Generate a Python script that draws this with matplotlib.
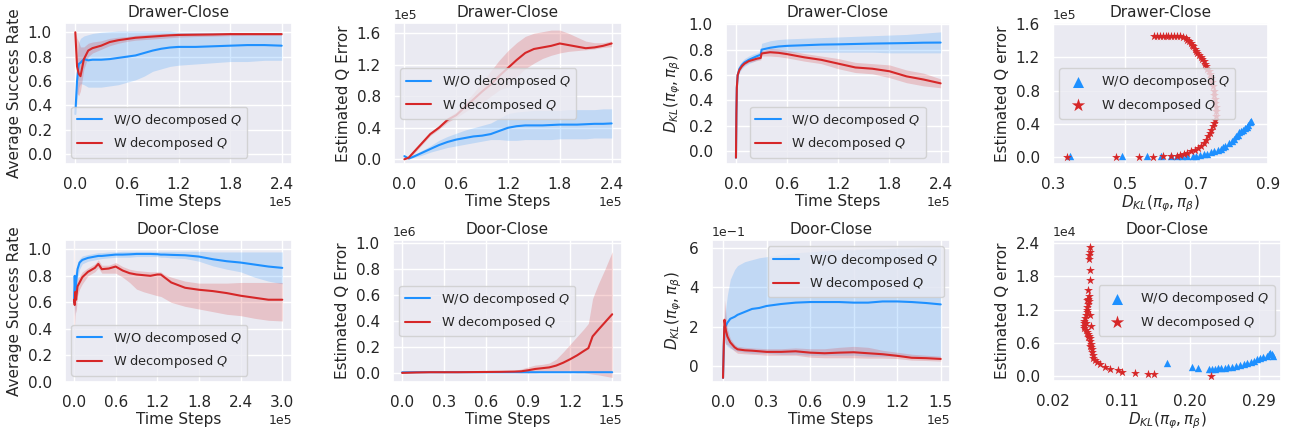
import numpy as np
import matplotlib
matplotlib.use("Agg")
import matplotlib.pyplot as plt
import seaborn as sns

BLUE = "#1E90FF"
RED = "#D62728"
LBL_WO = "W/O decomposed $Q$"
LBL_W = "W decomposed $Q$"
KL_LABEL = r"$D_{KL}(\pi_\varphi, \pi_\beta)$"

# ---------------- Drawer-Close: success rate (x in 1e5 steps)
dr_sr_x = [0, 0.02, 0.04, 0.06, 0.1, 0.15, 0.2, 0.3, 0.4, 0.5, 0.6, 0.7, 0.8, 0.9, 1.0, 1.1, 1.2, 1.4, 1.6, 1.8, 2.0, 2.2, 2.4]
dr_sr_wo = [0.33, 0.6, 0.74, 0.75, 0.78, 0.77, 0.775, 0.775, 0.78, 0.79, 0.80, 0.81, 0.83, 0.85, 0.865, 0.875, 0.88, 0.88, 0.885, 0.89, 0.895, 0.895, 0.89]
dr_sr_wo_lo = [0.25, 0.45, 0.55, 0.58, 0.57, 0.55, 0.55, 0.55, 0.56, 0.57, 0.59, 0.61, 0.64, 0.68, 0.70, 0.72, 0.73, 0.74, 0.75, 0.76, 0.76, 0.77, 0.77]
dr_sr_wo_hi = [0.42, 0.8, 0.92, 0.95, 0.97, 0.98, 0.99, 1.0, 1.005, 1.01, 1.01, 1.01, 1.01, 1.01, 1.01, 1.01, 1.0, 1.0, 1.0, 1.0, 1.0, 1.0, 1.0]
dr_sr_w = [1.0, 0.72, 0.66, 0.64, 0.78, 0.85, 0.87, 0.89, 0.92, 0.935, 0.945, 0.955, 0.96, 0.965, 0.97, 0.975, 0.978, 0.98, 0.982, 0.985, 0.985, 0.985, 0.985]
dr_sr_w_lo = [1.0, 0.5, 0.48, 0.52, 0.7, 0.8, 0.83, 0.86, 0.89, 0.91, 0.925, 0.935, 0.94, 0.945, 0.95, 0.955, 0.96, 0.965, 0.968, 0.972, 0.975, 0.975, 0.975]
dr_sr_w_hi = [1.0, 0.95, 0.92, 0.88, 0.88, 0.91, 0.92, 0.93, 0.95, 0.96, 0.965, 0.975, 0.98, 0.985, 0.99, 0.99, 0.995, 0.995, 0.995, 0.995, 0.995, 0.995, 0.995]

# ---------------- Drawer-Close: Q error (x in 1e5 steps, y in 1e5)
dr_q_x = [0, 0.05, 0.1, 0.2, 0.3, 0.4, 0.5, 0.6, 0.7, 0.8, 0.9, 1.0, 1.1, 1.2, 1.3, 1.4, 1.5, 1.6, 1.7, 1.8, 1.9, 2.0, 2.1, 2.2, 2.3, 2.4]
dr_q_wo = [0.04, 0.01, 0.03, 0.08, 0.13, 0.18, 0.22, 0.25, 0.27, 0.29, 0.30, 0.32, 0.36, 0.40, 0.42, 0.43, 0.43, 0.43, 0.435, 0.44, 0.44, 0.44, 0.445, 0.45, 0.45, 0.455]
dr_q_wo_lo = [0.03, 0.0, 0.02, 0.05, 0.09, 0.12, 0.15, 0.17, 0.19, 0.21, 0.23, 0.25, 0.25, 0.24, 0.24, 0.25, 0.25, 0.25, 0.25, 0.26, 0.26, 0.26, 0.26, 0.27, 0.27, 0.27]
dr_q_wo_hi = [0.05, 0.02, 0.05, 0.11, 0.17, 0.24, 0.29, 0.33, 0.37, 0.40, 0.43, 0.46, 0.52, 0.58, 0.60, 0.61, 0.62, 0.62, 0.62, 0.62, 0.63, 0.63, 0.63, 0.63, 0.64, 0.64]
dr_q_w = [0.0, 0.02, 0.08, 0.20, 0.32, 0.40, 0.50, 0.56, 0.66, 0.76, 0.86, 0.95, 1.06, 1.16, 1.26, 1.35, 1.40, 1.42, 1.44, 1.47, 1.45, 1.43, 1.41, 1.42, 1.44, 1.47]
dr_q_w_lo = [0.0, 0.01, 0.06, 0.18, 0.30, 0.38, 0.47, 0.53, 0.60, 0.67, 0.72, 0.80, 0.88, 0.92, 1.05, 1.15, 1.22, 1.28, 1.32, 1.35, 1.37, 1.38, 1.39, 1.40, 1.42, 1.43]
dr_q_w_hi = [0.01, 0.04, 0.10, 0.22, 0.34, 0.43, 0.53, 0.60, 0.72, 0.84, 0.98, 1.12, 1.26, 1.38, 1.48, 1.56, 1.60, 1.62, 1.64, 1.64, 1.60, 1.55, 1.50, 1.48, 1.48, 1.50]

# ---------------- Drawer-Close: KL (x in 1e5 steps)
dr_kl_x = [0, 0.005, 0.01, 0.02, 0.04, 0.07, 0.1, 0.15, 0.2, 0.25, 0.29, 0.3, 0.4, 0.5, 0.6, 0.8, 1.0, 1.2, 1.4, 1.6, 1.8, 2.0, 2.2, 2.4]
dr_kl_wo = [-0.05, 0.3, 0.5, 0.6, 0.65, 0.68, 0.7, 0.72, 0.735, 0.75, 0.76, 0.8, 0.815, 0.825, 0.83, 0.835, 0.84, 0.842, 0.845, 0.848, 0.85, 0.852, 0.855, 0.856]
dr_kl_wo_lo = [-0.05, 0.28, 0.47, 0.57, 0.62, 0.65, 0.67, 0.69, 0.705, 0.72, 0.73, 0.77, 0.775, 0.78, 0.78, 0.78, 0.78, 0.78, 0.78, 0.78, 0.775, 0.775, 0.775, 0.775]
dr_kl_wo_hi = [-0.05, 0.32, 0.53, 0.63, 0.68, 0.71, 0.73, 0.75, 0.765, 0.775, 0.79, 0.85, 0.87, 0.88, 0.885, 0.89, 0.895, 0.9, 0.905, 0.91, 0.915, 0.92, 0.93, 0.94]
dr_kl_w = [-0.05, 0.3, 0.5, 0.6, 0.64, 0.67, 0.69, 0.71, 0.72, 0.73, 0.735, 0.77, 0.78, 0.775, 0.765, 0.74, 0.72, 0.69, 0.66, 0.65, 0.63, 0.59, 0.565, 0.535]
dr_kl_w_lo = [-0.05, 0.29, 0.49, 0.59, 0.63, 0.66, 0.68, 0.70, 0.705, 0.715, 0.72, 0.75, 0.75, 0.745, 0.735, 0.71, 0.69, 0.65, 0.62, 0.61, 0.58, 0.54, 0.515, 0.5]
dr_kl_w_hi = [-0.05, 0.31, 0.51, 0.61, 0.65, 0.68, 0.70, 0.72, 0.735, 0.745, 0.75, 0.79, 0.81, 0.805, 0.795, 0.77, 0.75, 0.73, 0.70, 0.69, 0.68, 0.64, 0.615, 0.57]

# ---------------- Drawer-Close: scatter (KL, Q error in 1e5)
dr_sc_wo_kl = [0.348, 0.492, 0.561, 0.602, 0.63, 0.645, 0.66, 0.675, 0.69, 0.70, 0.71, 0.72, 0.73, 0.74, 0.75, 0.76, 0.77, 0.775, 0.78, 0.79, 0.80, 0.805, 0.81, 0.815, 0.82, 0.825, 0.83, 0.835, 0.84, 0.845, 0.85, 0.853]
dr_sc_wo_q = [0.01, 0.01, 0.01, 0.01, 0.01, 0.01, 0.01, 0.012, 0.015, 0.02, 0.025, 0.035, 0.045, 0.06, 0.075, 0.09, 0.105, 0.12, 0.14, 0.17, 0.2, 0.22, 0.25, 0.27, 0.3, 0.31, 0.33, 0.35, 0.36, 0.39, 0.42, 0.44]
dr_sc_w_kl = [0.34, 0.475, 0.54, 0.58, 0.607, 0.63, 0.645, 0.655, 0.665, 0.675, 0.685, 0.695, 0.705, 0.712, 0.72, 0.727, 0.733, 0.738, 0.742, 0.746, 0.749, 0.752, 0.754, 0.755, 0.754, 0.753, 0.751, 0.749, 0.748, 0.746, 0.744, 0.741, 0.737, 0.734, 0.731, 0.728, 0.725, 0.72, 0.716, 0.712, 0.707, 0.703, 0.699, 0.695, 0.691, 0.688, 0.684, 0.68, 0.675, 0.67, 0.662, 0.655, 0.646, 0.638, 0.63, 0.622, 0.614, 0.606, 0.598, 0.59, 0.582]
dr_sc_w_q = [0.0, 0.0, 0.0, 0.005, 0.01, 0.02, 0.02, 0.03, 0.04, 0.05, 0.07, 0.09, 0.11, 0.14, 0.17, 0.21, 0.25, 0.29, 0.33, 0.37, 0.41, 0.45, 0.5, 0.55, 0.6, 0.65, 0.7, 0.75, 0.8, 0.85, 0.9, 0.95, 1.0, 1.03, 1.06, 1.09, 1.12, 1.15, 1.18, 1.2, 1.23, 1.25, 1.28, 1.3, 1.33, 1.35, 1.37, 1.39, 1.41, 1.43, 1.44, 1.45, 1.45, 1.455, 1.45, 1.455, 1.45, 1.45, 1.455, 1.45, 1.45]

# ---------------- Door-Close: success rate (x in 1e5 steps)
do_sr_x = [0, 0.01, 0.02, 0.03, 0.05, 0.08, 0.12, 0.2, 0.3, 0.35, 0.4, 0.5, 0.6, 0.7, 0.8, 0.9, 1.0, 1.1, 1.2, 1.25, 1.3, 1.4, 1.6, 1.8, 2.0, 2.2, 2.4, 2.6, 2.8, 3.0]
do_sr_wo = [0.6, 0.8, 0.65, 0.75, 0.85, 0.9, 0.92, 0.935, 0.945, 0.95, 0.95, 0.955, 0.96, 0.96, 0.962, 0.965, 0.965, 0.965, 0.963, 0.96, 0.96, 0.958, 0.955, 0.945, 0.925, 0.91, 0.9, 0.885, 0.87, 0.86]
do_sr_wo_lo = [0.5, 0.6, 0.5, 0.65, 0.78, 0.85, 0.89, 0.91, 0.92, 0.925, 0.93, 0.935, 0.94, 0.94, 0.94, 0.945, 0.945, 0.945, 0.945, 0.94, 0.94, 0.935, 0.93, 0.91, 0.875, 0.85, 0.83, 0.79, 0.76, 0.74]
do_sr_wo_hi = [0.65, 0.85, 0.75, 0.82, 0.9, 0.93, 0.95, 0.96, 0.97, 0.975, 0.975, 0.98, 0.98, 0.985, 0.985, 0.985, 0.985, 0.985, 0.985, 0.985, 0.985, 0.985, 0.985, 0.985, 0.98, 0.98, 0.98, 0.98, 0.98, 0.98]
do_sr_w = [0.62, 0.58, 0.68, 0.62, 0.72, 0.75, 0.79, 0.83, 0.86, 0.89, 0.85, 0.855, 0.87, 0.84, 0.82, 0.81, 0.805, 0.8, 0.81, 0.81, 0.79, 0.75, 0.71, 0.695, 0.685, 0.67, 0.65, 0.635, 0.62, 0.62]
do_sr_w_lo = [0.35, 0.45, 0.55, 0.52, 0.65, 0.7, 0.74, 0.8, 0.83, 0.86, 0.82, 0.82, 0.82, 0.79, 0.75, 0.7, 0.68, 0.665, 0.65, 0.645, 0.63, 0.6, 0.57, 0.55, 0.53, 0.51, 0.5, 0.48, 0.465, 0.46]
do_sr_w_hi = [1.08, 0.75, 0.8, 0.72, 0.78, 0.8, 0.83, 0.86, 0.89, 0.92, 0.88, 0.88, 0.9, 0.87, 0.85, 0.84, 0.835, 0.83, 0.83, 0.83, 0.81, 0.79, 0.76, 0.745, 0.745, 0.745, 0.75, 0.75, 0.75, 0.75]

# ---------------- Door-Close: Q error (x in 1e5 steps, y in 1e6)
do_q_x = [0, 0.1, 0.2, 0.3, 0.4, 0.5, 0.6, 0.7, 0.8, 0.85, 0.9, 0.95, 1.0, 1.05, 1.1, 1.15, 1.2, 1.25, 1.3, 1.33, 1.36, 1.4, 1.45, 1.5]
do_q_wo = [0.004, 0.005, 0.005, 0.005, 0.005, 0.005, 0.005, 0.005, 0.005, 0.005, 0.005, 0.005, 0.005, 0.005, 0.005, 0.005, 0.005, 0.005, 0.005, 0.005, 0.005, 0.005, 0.005, 0.005]
do_q_wo_lo = [0.003, 0.004, 0.004, 0.004, 0.004, 0.004, 0.004, 0.004, 0.004, 0.004, 0.004, 0.004, 0.004, 0.004, 0.004, 0.004, 0.004, 0.004, 0.004, 0.004, 0.004, 0.004, 0.004, 0.004]
do_q_wo_hi = [0.005, 0.006, 0.006, 0.006, 0.006, 0.006, 0.006, 0.006, 0.006, 0.006, 0.006, 0.006, 0.006, 0.006, 0.006, 0.006, 0.006, 0.006, 0.006, 0.006, 0.006, 0.006, 0.006, 0.006]
do_q_w = [0.0, 0.003, 0.005, 0.005, 0.005, 0.006, 0.007, 0.008, 0.01, 0.012, 0.02, 0.03, 0.036, 0.042, 0.056, 0.078, 0.105, 0.135, 0.17, 0.19, 0.28, 0.33, 0.39, 0.45]
do_q_w_lo = [0.0, 0.002, 0.003, 0.003, 0.003, 0.003, 0.004, 0.004, 0.003, 0.0, 0.0, 0.0, 0.005, 0.005, 0.01, 0.01, 0.005, 0.0, 0.0, -0.005, -0.01, -0.015, -0.025, -0.035]
do_q_w_hi = [0.0, 0.004, 0.007, 0.008, 0.008, 0.009, 0.01, 0.012, 0.018, 0.03, 0.045, 0.06, 0.065, 0.075, 0.105, 0.16, 0.22, 0.28, 0.34, 0.38, 0.57, 0.68, 0.8, 0.93]

# ---------------- Door-Close: KL (x in 1e5 steps, y in 1e-1)
do_kl_x = [0, 0.005, 0.01, 0.02, 0.03, 0.05, 0.08, 0.1, 0.15, 0.2, 0.25, 0.3, 0.4, 0.5, 0.6, 0.7, 0.8, 0.9, 1.0, 1.1, 1.2, 1.3, 1.4, 1.5]
do_kl_wo = [-0.6, 1.0, 2.0, 2.05, 2.2, 2.4, 2.5, 2.6, 2.75, 2.9, 2.95, 3.05, 3.15, 3.22, 3.25, 3.25, 3.25, 3.22, 3.22, 3.28, 3.28, 3.25, 3.2, 3.13]
do_kl_wo_lo = [-0.6, 0.5, 1.2, 1.1, 1.0, 0.9, 0.8, 0.75, 0.7, 0.65, 0.65, 0.65, 0.6, 0.6, 0.55, 0.55, 0.55, 0.55, 0.5, 0.5, 0.5, 0.5, 0.45, 0.45]
do_kl_wo_hi = [-0.6, 1.5, 2.5, 3.0, 3.6, 4.4, 4.9, 5.1, 5.3, 5.4, 5.5, 5.55, 5.65, 5.75, 5.8, 5.85, 5.9, 5.9, 5.95, 5.95, 6.0, 6.0, 6.05, 6.05]
do_kl_w = [-0.6, 1.0, 2.35, 1.8, 1.5, 1.2, 0.95, 0.85, 0.8, 0.78, 0.75, 0.72, 0.72, 0.75, 0.68, 0.65, 0.68, 0.7, 0.65, 0.6, 0.52, 0.42, 0.4, 0.36]
do_kl_w_lo = [-0.6, 0.6, 1.4, 1.1, 1.1, 0.95, 0.75, 0.65, 0.62, 0.6, 0.58, 0.55, 0.55, 0.55, 0.45, 0.42, 0.42, 0.42, 0.4, 0.4, 0.38, 0.3, 0.28, 0.25]
do_kl_w_hi = [-0.6, 1.5, 3.35, 2.6, 1.9, 1.4, 1.1, 1.0, 0.95, 0.92, 0.9, 0.88, 0.88, 0.92, 0.88, 0.88, 0.95, 1.0, 0.95, 0.8, 0.7, 0.6, 0.55, 0.5]

# ---------------- Door-Close: scatter (KL, Q error in 1e4)
do_sc_wo_kl = [0.169, 0.202, 0.21, 0.224, 0.228, 0.232, 0.236, 0.24, 0.245, 0.25, 0.255, 0.26, 0.265, 0.27, 0.275, 0.28, 0.284, 0.288, 0.292, 0.296, 0.3, 0.303, 0.305, 0.307, 0.309]
do_sc_wo_q = [0.24, 0.17, 0.14, 0.12, 0.13, 0.13, 0.14, 0.14, 0.15, 0.16, 0.17, 0.19, 0.2, 0.22, 0.24, 0.26, 0.28, 0.3, 0.32, 0.34, 0.36, 0.39, 0.41, 0.39, 0.37]
do_sc_w_kl = [0.068, 0.068, 0.067, 0.067, 0.068, 0.068, 0.066, 0.067, 0.066, 0.067, 0.066, 0.065, 0.065, 0.064, 0.063, 0.062, 0.061, 0.06, 0.06, 0.061, 0.063, 0.064, 0.066, 0.067, 0.068, 0.069, 0.07, 0.07, 0.071, 0.071, 0.072, 0.073, 0.075, 0.078, 0.082, 0.088, 0.095, 0.105, 0.11, 0.127, 0.145, 0.153, 0.227, 0.065, 0.068, 0.07, 0.063, 0.066, 0.069]
do_sc_w_q = [2.33, 2.25, 2.18, 2.12, 1.92, 1.73, 1.55, 1.45, 1.4, 1.35, 1.3, 1.25, 1.2, 1.15, 1.1, 1.05, 1.0, 0.95, 0.9, 0.87, 0.83, 0.8, 0.76, 0.72, 0.68, 0.63, 0.58, 0.53, 0.48, 0.43, 0.38, 0.33, 0.29, 0.25, 0.21, 0.17, 0.13, 0.1, 0.08, 0.06, 0.04, 0.03, 0.0, 1.38, 1.1, 0.9, 0.95, 0.7, 0.55]

sns.set_theme(style="darkgrid")
plt.rcParams["font.family"] = ["DejaVu Sans"]
plt.rcParams["xtick.labelsize"] = 11
plt.rcParams["ytick.labelsize"] = 11
plt.rcParams["axes.labelsize"] = 11
plt.rcParams["axes.titlesize"] = 11

W, H = 1293, 432
fig = plt.figure(figsize=(W / 100, H / 100), dpi=100)


def make_axes(l, r, t, b):
    return fig.add_axes([l / W, 1 - b / H, (r - l) / W, (b - t) / H])


def time_plot(ax, x, scale, wo, wo_lo, wo_hi, w, w_lo, w_hi):
    xs = np.array(x) * 1e5
    for m, lo, hi, c, lab in [(wo, wo_lo, wo_hi, BLUE, LBL_WO), (w, w_lo, w_hi, RED, LBL_W)]:
        ax.fill_between(xs, np.array(lo) * scale, np.array(hi) * scale, color=c, alpha=0.2, lw=0)
        ax.plot(xs, np.array(m) * scale, color=c, lw=1.5, label=lab)
    ax.set_xlabel("Time Steps", labelpad=1)
    ax.ticklabel_format(axis="x", style="sci", scilimits=(0, 0))
    ax.xaxis.get_offset_text().set_fontsize(9)
    ax.yaxis.get_offset_text().set_fontsize(9)


def scatter_plot(ax, wo_kl, wo_q, w_kl, w_q, scale):
    ax.scatter(wo_kl, np.array(wo_q) * scale, marker="^", s=28, color=BLUE, lw=0, label=LBL_WO)
    ax.scatter(w_kl, np.array(w_q) * scale, marker="*", s=45, color=RED, lw=0, label=LBL_W)
    ax.set_xlabel(KL_LABEL, labelpad=1)
    ax.set_ylabel("Estimated Q error")
    ax.ticklabel_format(axis="y", style="sci", scilimits=(0, 0))
    ax.yaxis.get_offset_text().set_fontsize(9)


leg_kw = dict(fontsize=9.3, frameon=True, handlelength=2.0)

# Row 1
ax = make_axes(65, 292, 23, 164)
time_plot(ax, dr_sr_x, 1, dr_sr_wo, dr_sr_wo_lo, dr_sr_wo_hi, dr_sr_w, dr_sr_w_lo, dr_sr_w_hi)
ax.set_xlim(-0.12e5, 2.52e5)
ax.set_ylim(-0.08, 1.076)
ax.set_xticks([0, 0.6e5, 1.2e5, 1.8e5, 2.4e5])
ax.set_yticks([0, 0.2, 0.4, 0.6, 0.8, 1.0])
ax.set_ylabel("Average Success Rate")
ax.set_title("Drawer-Close", pad=4)
ax.legend(loc="lower left", **leg_kw)

ax = make_axes(394, 622, 23, 164)
time_plot(ax, dr_q_x, 1e5, dr_q_wo, dr_q_wo_lo, dr_q_wo_hi, dr_q_w, dr_q_w_lo, dr_q_w_hi)
ax.set_xlim(-0.12e5, 2.52e5)
ax.set_ylim(-0.06e5, 1.73e5)
ax.set_xticks([0, 0.6e5, 1.2e5, 1.8e5, 2.4e5])
ax.set_yticks([0, 0.4e5, 0.8e5, 1.2e5, 1.6e5])
ax.ticklabel_format(axis="y", style="sci", scilimits=(0, 0))
ax.set_ylabel("Estimated Q Error")
ax.set_title("Drawer-Close", pad=4)
ax.legend(loc="center left", **leg_kw)

ax = make_axes(726, 950, 23, 164)
time_plot(ax, dr_kl_x, 1, dr_kl_wo, dr_kl_wo_lo, dr_kl_wo_hi, dr_kl_w, dr_kl_w_lo, dr_kl_w_hi)
ax.set_xlim(-0.117e5, 2.51e5)
ax.set_ylim(-0.1, 1.01)
ax.set_xticks([0, 0.6e5, 1.2e5, 1.8e5, 2.4e5])
ax.set_yticks([0, 0.2, 0.4, 0.6, 0.8, 1.0])
ax.set_ylabel(KL_LABEL)
ax.set_title("Drawer-Close", pad=4)
ax.legend(loc="lower center", **leg_kw)

ax = make_axes(1053, 1268, 23, 164)
scatter_plot(ax, dr_sc_wo_kl, dr_sc_wo_q, dr_sc_w_kl, dr_sc_w_q, 1e5)
ax.set_xlim(0.305, 0.895)
ax.set_ylim(-0.08e5, 1.61e5)
ax.set_xticks([0.3, 0.5, 0.7, 0.9])
ax.set_yticks([0, 0.4e5, 0.8e5, 1.2e5, 1.6e5])
ax.set_title("Drawer-Close", pad=4)
ax.legend(loc="center left", bbox_to_anchor=(0.0, 0.5), markerscale=1.5, **leg_kw)

# Row 2
ax = make_axes(65, 292, 240, 382)
time_plot(ax, do_sr_x, 1, do_sr_wo, do_sr_wo_lo, do_sr_wo_hi, do_sr_w, do_sr_w_lo, do_sr_w_hi)
ax.set_xlim(-0.13e5, 3.14e5)
ax.set_ylim(0.0, 1.07)
ax.set_xticks([0, 0.6e5, 1.2e5, 1.8e5, 2.4e5, 3.0e5])
ax.set_yticks([0, 0.2, 0.4, 0.6, 0.8, 1.0])
ax.set_ylabel("Average Success Rate")
ax.set_title("Door-Close", pad=4)
ax.legend(loc="lower left", **leg_kw)

ax = make_axes(393, 622, 240, 382)
time_plot(ax, do_q_x, 1e6, do_q_wo, do_q_wo_lo, do_q_wo_hi, do_q_w, do_q_w_lo, do_q_w_hi)
ax.set_xlim(-0.065e5, 1.57e5)
ax.set_ylim(-0.07e6, 1.02e6)
ax.set_xticks([0, 0.3e5, 0.6e5, 0.9e5, 1.2e5, 1.5e5])
ax.set_yticks([0, 0.2e6, 0.4e6, 0.6e6, 0.8e6, 1.0e6])
ax.ticklabel_format(axis="y", style="sci", scilimits=(0, 0))
ax.set_ylabel("Estimated Q Error")
ax.set_title("Door-Close", pad=4)
ax.legend(loc="center left", **leg_kw)

ax = make_axes(712, 950, 240, 382)
time_plot(ax, do_kl_x, 0.1, do_kl_wo, do_kl_wo_lo, do_kl_wo_hi, do_kl_w, do_kl_w_lo, do_kl_w_hi)
ax.set_xlim(-0.076e5, 1.564e5)
ax.set_ylim(-0.081, 0.64)
ax.set_xticks([0, 0.3e5, 0.6e5, 0.9e5, 1.2e5, 1.5e5])
ax.set_yticks([0, 0.2, 0.4, 0.6])
ax.ticklabel_format(axis="y", style="sci", scilimits=(0, 0))
ax.set_ylabel(KL_LABEL)
ax.set_title("Door-Close", pad=4)
ax.legend(loc="upper right", **leg_kw)

ax = make_axes(1053, 1281, 240, 381)
scatter_plot(ax, do_sc_wo_kl, do_sc_wo_q, do_sc_w_kl, do_sc_w_q, 1e4)
ax.set_xlim(0.021, 0.319)
ax.set_ylim(-0.09e4, 2.46e4)
ax.set_xticks([0.02, 0.11, 0.20, 0.29])
ax.set_yticks([0, 0.6e4, 1.2e4, 1.8e4, 2.4e4])
ax.set_title("Door-Close", pad=4)
ax.legend(loc="center right", markerscale=1.5, **leg_kw)

fig.savefig("out.png", dpi=100)
